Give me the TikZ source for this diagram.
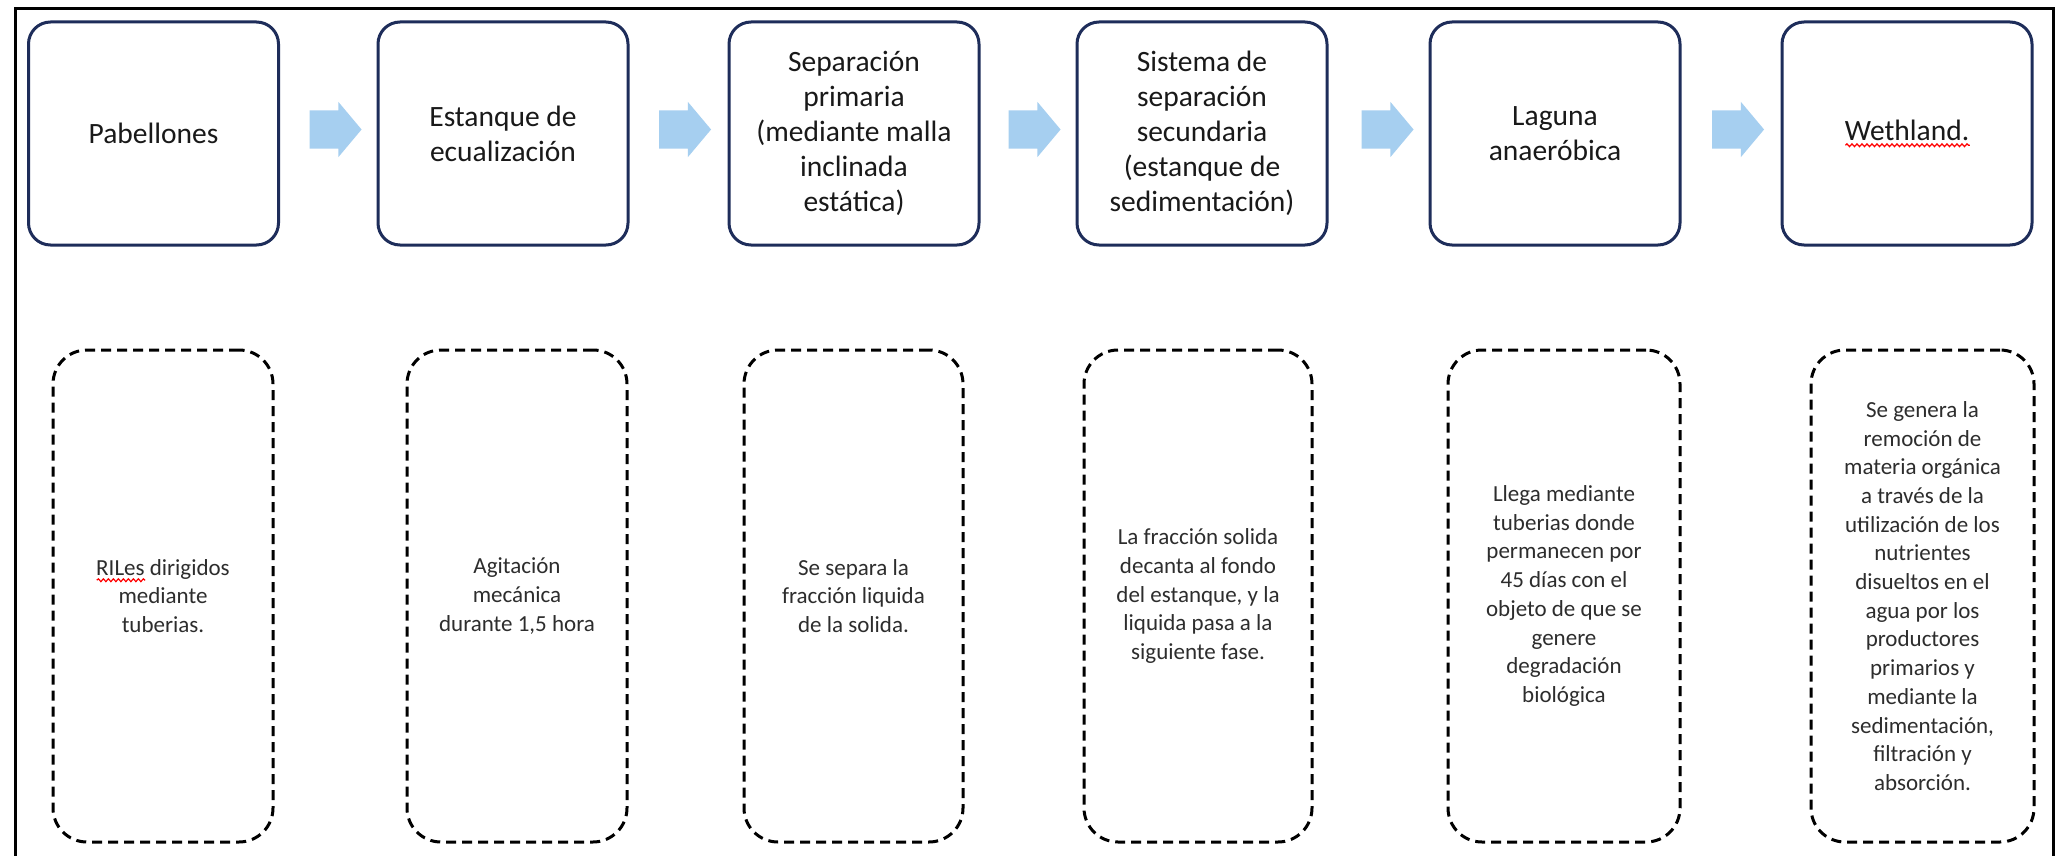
\documentclass[tikz,border=0pt]{standalone}
\usepackage{fontspec}
\setmainfont{Carlito}
\usetikzlibrary{shapes.arrows,decorations.pathmorphing}
\newcommand\redwave[1]{\setbox0\hbox{#1}\rlap{\tikz[baseline=0pt]{\draw[red, line width=1.2pt, solid, sharp corners, decorate, decoration={snake, amplitude=1.4pt, segment length=5pt}] (0pt,-5pt) -- (\the\wd0,-5pt);}}\box0\relax}
\definecolor{navyline}{RGB}{30,45,90}
\definecolor{arrowblue}{RGB}{166,207,240}
\definecolor{toptext}{RGB}{25,25,25}
\definecolor{bottext}{RGB}{45,45,45}
\tikzset{
  topbox/.style={draw=navyline, line width=3pt, rounded corners=22pt,
    minimum width=250pt, minimum height=223pt, align=center, text=toptext,
    font=\fontsize{29.5}{35}\selectfont, inner sep=4pt},
  notebox/.style={draw=black, line width=3pt, dash pattern=on 10pt off 6pt,
    rounded corners=34pt, minimum height=492pt, align=center, text=bottext,
    font=\fontsize{23}{28.7}\selectfont, inner sep=4pt},
  flowarrow/.style={single arrow, fill=arrowblue, draw=none, inner xsep=0pt,
    inner ysep=19pt, text height=0pt, text depth=0pt, minimum width=0pt,
    minimum height=52pt, single arrow head extend=8.5pt,
    single arrow tip angle=100},
  frameline/.style={draw=black, line width=3pt}
}
\begin{document}
\begin{tikzpicture}[x=1pt,y=-1pt]
\useasboundingbox (0,0) rectangle (2061,856);
\fill[white] (0,0) rectangle (2061,856);
\draw[frameline] (15,856) -- (15,9) -- (2053,9) -- (2053,856);

\node[topbox] (t1) at (153.5,133.5) {Pabellones};
\node[topbox] (t2) at (503,133.5) {Estanque de\\ecualización};
\node[topbox] (t3) at (854,133.5) {Separación\\primaria\\(mediante malla\\inclinada\\estática)};
\node[topbox] (t4) at (1202,133.5) {Sistema de\\separación\\secundaria\\(estanque de\\sedimentación)};
\node[topbox] (t5) at (1555,133.5) {Laguna\\anaeróbica};
\node[topbox] (t6) at (1907,133.5) {\redwave{Wethland.}};

\node[flowarrow] (a1) at (327.5,129.5) {};
\node[flowarrow] (a2) at (677,129.5) {};
\node[flowarrow] (a3) at (1026.5,129.5) {};
\node[flowarrow] (a4) at (1379.5,129.5) {};
\node[flowarrow] (a5) at (1730,129.5) {};

\node[notebox, minimum width=220pt] (b1) at (163,596) {\redwave{RILes} dirigidos\\mediante\\tuberias.};
\node[notebox, minimum width=220pt] (b2) at (517,596) {Agitación\\mecánica\\durante 1,5 hora};
\node[notebox, minimum width=219pt] (b3) at (853.5,596) {Se separa la\\fracción liquida\\de la solida.};
\node[notebox, minimum width=228pt] (b4) at (1198,596) {La fracción solida\\decanta al fondo\\del estanque, y la\\liquida pasa a la\\siguiente fase.};
\node[notebox, minimum width=232pt] (b5) at (1564,596) {Llega mediante\\tuberias donde\\permanecen por\\45 días con el\\objeto de que se\\genere\\degradación\\biológica};
\node[notebox, minimum width=223pt] (b6) at (1922.5,596) {Se genera la\\remoción de\\materia orgánica\\a través de la\\utilización de los\\nutrientes\\disueltos en el\\agua por los\\productores\\primarios y\\mediante la\\sedimentación,\\filtración y\\absorción.};
\end{tikzpicture}
\end{document}
